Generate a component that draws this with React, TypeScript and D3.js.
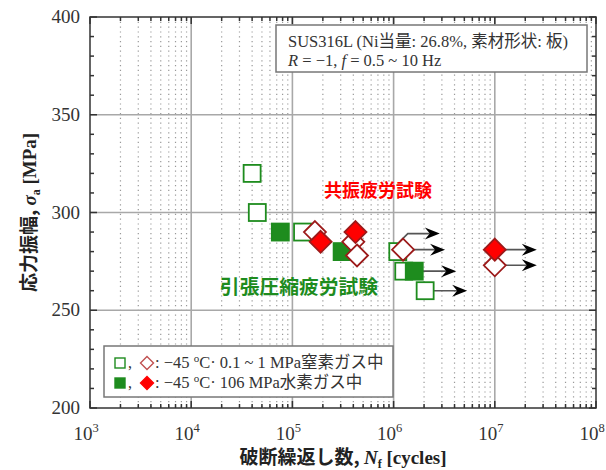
import { useEffect, useRef } from 'react';
import * as d3 from 'd3';

// tension-compression fatigue (green squares)
const tcOpenN = [4.0e4, 4.5e4, 1.26e5, 1.1e6, 1.26e6, 2.05e6];
const tcOpenS = [320, 300, 290, 280, 270, 260];
const tcOpenRunout = [false, false, false, true, false, true];
const tcFilledN = [7.6e4, 3.1e5, 1.6e6];
const tcFilledS = [290, 280, 270];
const tcFilledRunout = [false, false, true];

// resonance fatigue (red diamonds)
const resOpenN = [1.67e5, 4.0e5, 4.35e5, 1.24e6, 1.0e7];
const resOpenS = [290, 285, 278, 281, 273];
const resOpenRunout = [false, false, false, true, true];
const resFilledN = [1.9e5, 4.2e5, 1.0e7];
const resFilledS = [285, 290, 281];
const resFilledRunout = [false, false, true];

const xDecades = [3, 4, 5, 6, 7, 8];
const yTicks = [200, 250, 300, 350, 400];

const GREEN = '#1e8c1e';
const RED = '#ff0000';
const DARKRED = '#9c1a1a';

type Pt = { n: number; s: number; runout: boolean };
const zip = (ns: number[], ss: number[], rs: boolean[]): Pt[] =>
    ns.map((n, i) => ({ n, s: ss[i], runout: rs[i] }));

export default function App() {
    const ref = useRef<SVGSVGElement>(null);

    useEffect(() => {
        if (!ref.current) return;
        const svg = d3.select(ref.current);
        svg.selectAll('*').remove();

        const left = 90, right = 596, top = 17, bottom = 408;
        const x = d3.scaleLog().domain([1e3, 1e8]).range([left, right]);
        const y = d3.scaleLinear().domain([200, 400]).range([bottom, top]);

        const serif = '"Liberation Serif", "Times New Roman", "Noto Sans CJK JP", serif';
        const gothic = '"Noto Sans CJK JP", sans-serif';

        const g = svg.append('g');

        // minor dotted grid (vertical)
        const minors: number[] = [];
        for (let d = 3; d < 8; d++) for (let k = 2; k <= 9; k++) minors.push(k * Math.pow(10, d));
        g.append('g').selectAll('line').data(minors).enter().append('line')
            .attr('x1', d => x(d)).attr('x2', d => x(d))
            .attr('y1', top).attr('y2', bottom)
            .attr('stroke', '#999').attr('stroke-width', 1.2)
            .attr('stroke-dasharray', '1.2,3.6');

        // major grid
        g.append('g').selectAll('line').data([1e4, 1e5, 1e6, 1e7]).enter().append('line')
            .attr('x1', d => x(d)).attr('x2', d => x(d))
            .attr('y1', top).attr('y2', bottom)
            .attr('stroke', '#a8a8a8').attr('stroke-width', 1.6);
        g.append('g').selectAll('line').data([250, 300, 350]).enter().append('line')
            .attr('x1', left).attr('x2', right)
            .attr('y1', d => y(d)).attr('y2', d => y(d))
            .attr('stroke', '#a8a8a8').attr('stroke-width', 1.6);

        // frame + inside ticks
        const ax = g.append('g').attr('stroke', '#333').attr('stroke-width', 1.5);
        xDecades.forEach(p => {
            const v = Math.pow(10, p);
            ax.append('line').attr('x1', x(v)).attr('x2', x(v)).attr('y1', bottom).attr('y2', bottom - 7);
            ax.append('line').attr('x1', x(v)).attr('x2', x(v)).attr('y1', top).attr('y2', top + 7);
        });
        minors.forEach(v => {
            ax.append('line').attr('x1', x(v)).attr('x2', x(v)).attr('y1', bottom).attr('y2', bottom - 4);
            ax.append('line').attr('x1', x(v)).attr('x2', x(v)).attr('y1', top).attr('y2', top + 4);
        });
        d3.range(200, 401, 10).forEach(v => {
            const len = v % 50 === 0 ? 7 : 4;
            ax.append('line').attr('x1', left).attr('x2', left + len).attr('y1', y(v)).attr('y2', y(v));
            ax.append('line').attr('x1', right).attr('x2', right - len).attr('y1', y(v)).attr('y2', y(v));
        });
        ax.append('rect').attr('x', left).attr('y', top)
            .attr('width', right - left).attr('height', bottom - top).attr('fill', 'none');

        // tick labels
        yTicks.forEach(v => {
            g.append('text').attr('x', left - 10).attr('y', y(v) + 6)
                .attr('text-anchor', 'end').attr('font-family', serif).attr('font-size', 19)
                .attr('fill', '#333').text(String(v));
        });
        xDecades.forEach(p => {
            const t = g.append('text').attr('x', x(Math.pow(10, p)) - 4).attr('y', 440)
                .attr('text-anchor', 'middle').attr('font-family', serif).attr('font-size', 19)
                .attr('fill', '#333');
            t.append('tspan').text('10');
            t.append('tspan').attr('dy', -8).attr('font-size', 12.5).text(String(p));
        });

        // axis titles
        const xt = g.append('text').attr('x', (left + right) / 2).attr('y', 464)
            .attr('text-anchor', 'middle').attr('font-family', serif).attr('font-size', 19)
            .attr('font-weight', 'bold').attr('fill', '#222');
        xt.append('tspan').attr('font-family', gothic).text('破断繰返し数, ');
        xt.append('tspan').attr('font-style', 'italic').text('N');
        xt.append('tspan').attr('font-size', 12).attr('dy', 4).text('f');
        xt.append('tspan').attr('dy', -4).text(' [cycles]');

        const yt = g.append('text').attr('transform', `translate(36,${(top + bottom) / 2}) rotate(-90)`)
            .attr('text-anchor', 'middle').attr('font-family', serif).attr('font-size', 19)
            .attr('font-weight', 'bold').attr('fill', '#222');
        yt.append('tspan').attr('font-family', gothic).text('応力振幅, ');
        yt.append('tspan').attr('font-style', 'italic').text('σ');
        yt.append('tspan').attr('font-size', 12).attr('dy', 4).text('a');
        yt.append('tspan').attr('dy', -4).text(' [MPa]');

        // data
        const tcOpen = zip(tcOpenN, tcOpenS, tcOpenRunout);
        const tcFilled = zip(tcFilledN, tcFilledS, tcFilledRunout);
        const resOpen = zip(resOpenN, resOpenS, resOpenRunout);
        const resFilled = zip(resFilledN, resFilledS, resFilledRunout);
        const runouts = [...tcOpen, ...tcFilled, ...resOpen, ...resFilled].filter(d => d.runout);

        // run-out arrows
        const arr = g.append('g');
        runouts.forEach(d => {
            const cx = x(d.n), cy = y(d.s);
            const crowded = runouts.some(o => o !== d && x(o.n) > cx && x(o.n) - cx < 10 && Math.abs(y(o.s) - cy) < 5);
            const tipX = cx + 42;
            const ly = crowded ? cy - 18 : cy;
            const path = crowded
                ? `M${cx + 1},${cy - 9} L${cx + 10},${ly} L${tipX - 10},${ly}`
                : `M${cx},${cy} L${tipX - 10},${ly}`;
            arr.append('path').attr('d', path).attr('fill', 'none')
                .attr('stroke', '#555').attr('stroke-width', 1.6);
            arr.append('path')
                .attr('d', `M${tipX},${ly} L${tipX - 15},${ly - 6} L${tipX - 10},${ly} L${tipX - 15},${ly + 6} Z`)
                .attr('fill', '#000');
        });

        const sq = 17, dm = 11;
        const drawSquares = (data: Pt[], fill: string) =>
            g.append('g').selectAll('rect').data(data).enter().append('rect')
                .attr('x', d => x(d.n) - sq / 2).attr('y', d => y(d.s) - sq / 2)
                .attr('width', sq).attr('height', sq)
                .attr('fill', fill).attr('stroke', GREEN).attr('stroke-width', 1.8);
        const diamond = (cx: number, cy: number, r: number) =>
            `M${cx},${cy - r} L${cx + r},${cy} L${cx},${cy + r} L${cx - r},${cy} Z`;
        const drawDiamonds = (data: Pt[], fill: string) =>
            g.append('g').selectAll('path').data(data).enter().append('path')
                .attr('d', d => diamond(x(d.n), y(d.s), dm))
                .attr('fill', fill).attr('stroke', DARKRED).attr('stroke-width', 1.8);

        drawSquares(tcOpen, '#fff');
        drawSquares(tcFilled, GREEN);
        drawDiamonds(resOpen, '#fff');
        drawDiamonds(resFilled, RED);

        // annotations
        g.append('text').attr('x', 378).attr('y', 197).attr('text-anchor', 'middle')
            .attr('font-family', gothic).attr('font-weight', 'bold').attr('font-size', 18)
            .attr('fill', RED).text('共振疲労試験');
        g.append('text').attr('x', 299).attr('y', 294).attr('text-anchor', 'middle')
            .attr('font-family', gothic).attr('font-weight', 'bold').attr('font-size', 19.8)
            .attr('fill', GREEN).text('引張圧縮疲労試験');

        // info box
        g.append('rect').attr('x', 276).attr('y', 25).attr('width', 311).attr('height', 47)
            .attr('fill', '#fff').attr('stroke', '#777').attr('stroke-width', 1.5);
        const i1 = g.append('text').attr('x', 288).attr('y', 47).attr('font-family', serif)
            .attr('font-size', 16.5).attr('fill', '#333');
        i1.text('SUS316L (Ni当量: 26.8%, 素材形状: 板)');
        const i2 = g.append('text').attr('x', 288).attr('y', 66).attr('font-family', serif)
            .attr('font-size', 16.5).attr('fill', '#333');
        i2.append('tspan').attr('font-style', 'italic').text('R');
        i2.append('tspan').text(' = −1, ');
        i2.append('tspan').attr('font-style', 'italic').text('f');
        i2.append('tspan').text(' = 0.5 ~ 10 Hz');

        // legend
        g.append('rect').attr('x', 104).attr('y', 346).attr('width', 289).attr('height', 51)
            .attr('fill', '#fff').attr('stroke', '#777').attr('stroke-width', 1.5);
        const rows = [
            { cy: 363, sqFill: '#fff', dmFill: '#fff', label: '0.1 ~ 1 MPa窒素ガス中' },
            { cy: 383, sqFill: GREEN, dmFill: RED, label: '106 MPa水素ガス中' },
        ];
        rows.forEach(r => {
            g.append('rect').attr('x', 115).attr('y', r.cy - 5).attr('width', 10).attr('height', 10)
                .attr('fill', r.sqFill).attr('stroke', GREEN).attr('stroke-width', 1.4);
            g.append('text').attr('x', 128).attr('y', r.cy + 5).attr('font-family', serif)
                .attr('font-size', 16).attr('fill', '#333').text(',');
            g.append('path').attr('d', diamond(147, r.cy, 6.5))
                .attr('fill', r.dmFill).attr('stroke', r.dmFill === RED ? RED : '#c05050')
                .attr('stroke-width', 1.4);
            const t = g.append('text').attr('x', 155).attr('y', r.cy + 5).attr('font-family', serif)
                .attr('font-size', 16.5).attr('fill', '#333');
            t.append('tspan').text(': −45 ');
            t.append('tspan').attr('dy', -6).attr('font-size', 11).text('o');
            t.append('tspan').attr('dy', 6).text('C· ' + r.label);
        });
    }, []);

    return (
        <svg ref={ref} width={606} height={470}
            style={{ position: 'absolute', left: 0, top: 0, background: '#fff' }} />
    );
}
